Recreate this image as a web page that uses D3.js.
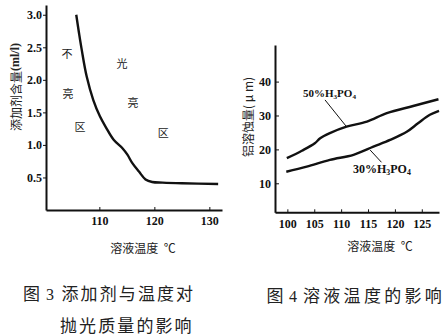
<!DOCTYPE html>
<html>
<head>
<meta charset="utf-8">
<script src="https://cdn.jsdelivr.net/npm/d3@7"></script>
<style>
  html, body { margin: 0; padding: 0; background: #fff; }
  svg { display: block; }
  .num text { font-family: "Liberation Serif", "DejaVu Serif", serif; font-weight: bold; font-size: 12px; fill: #111; }
  .cjk { font-family: "Noto Sans CJK SC", sans-serif; fill: #222; }
</style>
</head>
<body>
<svg id="fig" width="444" height="335"></svg>
<script>
// Fig. 3: additive content boundary vs. solution temperature
const temp3 = [105.8, 106.3, 106.8, 107.7, 108.9, 110.1, 111.2, 112.6, 114.2, 115.1, 116.0, 117.2, 118.4, 119.6, 121.5, 125.0, 131.6];
const additive = [3.00, 2.72, 2.46, 2.05, 1.69, 1.44, 1.27, 1.08, 0.95, 0.85, 0.72, 0.59, 0.47, 0.43, 0.42, 0.41, 0.40];
const ticksX3 = [110, 120, 130];
const ticksY3 = [0.5, 1.0, 1.5, 2.0, 2.5, 3.0];
const regionLabels = [
  { t: "不", x: 104.1, y: 2.42 }, { t: "亮", x: 104.3, y: 1.80 }, { t: "区", x: 106.5, y: 1.29 },
  { t: "光", x: 114.1, y: 2.26 }, { t: "亮", x: 116.1, y: 1.66 }, { t: "区", x: 121.6, y: 1.20 }
];

// Fig. 4: aluminium dissolution vs. solution temperature
const temp4a = [99.9, 102.7, 105.1, 106.1, 107.9, 111.0, 114.8, 118.5, 123.4, 128.1];
const h3po4_50 = [17.4, 19.6, 21.8, 23.3, 24.8, 26.7, 28.2, 30.7, 32.8, 34.8];
const temp4b = [99.8, 103.6, 107.9, 112.3, 116.0, 119.1, 122.2, 124.3, 126.5, 128.2];
const h3po4_30 = [13.4, 14.9, 16.9, 18.4, 20.8, 22.8, 25.2, 27.7, 30.2, 31.4];
const ticksX4 = [100, 105, 110, 115, 120, 125];
const ticksY4 = [10, 20, 30, 40];

const svg = d3.select("#fig");
svg.append("rect").attr("width", 444).attr("height", 335).attr("fill", "#fff");

// ---------- Fig. 3 ----------
const x3 = d3.scaleLinear().domain([100.3, 132.3]).range([46, 222]);
const y3 = d3.scaleLinear().domain([0, 3.15]).range([210, 5]);

const ax3x = svg.append("g").attr("class", "num").attr("transform", `translate(0,${y3(0)})`)
  .call(d3.axisBottom(x3).tickValues(ticksX3).tickFormat(d3.format("d")).tickSizeInner(-3).tickSizeOuter(0).tickPadding(6));
const ax3y = svg.append("g").attr("class", "num").attr("transform", `translate(${x3(100.3)},0)`)
  .call(d3.axisLeft(y3).tickValues(ticksY3).tickFormat(d3.format(".1f")).tickSizeInner(3).tickSizeOuter(0).tickPadding(1));
[ax3x, ax3y].forEach(g => {
  g.select(".domain").attr("stroke", "#111").attr("stroke-width", 2);
  g.selectAll(".tick line").attr("stroke", "#111").attr("stroke-width", 1);
});

svg.append("path")
  .datum(temp3.map((t, i) => [t, additive[i]]))
  .attr("fill", "none").attr("stroke", "#111").attr("stroke-width", 2.4)
  .attr("d", d3.line().x(d => x3(d[0])).y(d => y3(d[1])).curve(d3.curveCatmullRom));

svg.selectAll("text.region").data(regionLabels).enter().append("text")
  .attr("class", "cjk region")
  .attr("x", d => x3(d.x)).attr("y", d => y3(d.y))
  .attr("text-anchor", "middle").attr("dominant-baseline", "central")
  .attr("font-size", 11).text(d => d.t);

svg.append("text").attr("class", "cjk")
  .attr("x", 143).attr("y", 247).attr("text-anchor", "middle").attr("dominant-baseline", "central")
  .attr("font-size", 12).attr("xml:space", "preserve").text("溶液温度  ℃");

const yl3 = svg.append("text").attr("class", "cjk")
  .attr("transform", "translate(15,87) rotate(-90)")
  .attr("text-anchor", "middle").attr("dominant-baseline", "central").attr("font-size", 12);
yl3.append("tspan").text("添加剂含量");
yl3.append("tspan").attr("font-family", "Liberation Serif, serif").attr("font-weight", "bold").text("(ml/l)");

// ---------- Fig. 4 ----------
const x4 = d3.scaleLinear().domain([97.7, 128.2]).range([275, 439]);
const y4 = d3.scaleLinear().domain([1.44, 50.8]).range([212.3, 45]);

const ax4x = svg.append("g").attr("class", "num").attr("transform", `translate(0,${y4(1.44)})`)
  .call(d3.axisBottom(x4).tickValues(ticksX4).tickFormat(d3.format("d")).tickSizeInner(-3).tickSizeOuter(0).tickPadding(7));
const ax4y = svg.append("g").attr("class", "num").attr("transform", `translate(${x4(97.7)},0)`)
  .call(d3.axisLeft(y4).tickValues(ticksY4).tickFormat(d3.format("d")).tickSizeInner(-4).tickSizeOuter(0).tickPadding(4));
[ax4x, ax4y].forEach(g => {
  g.select(".domain").attr("stroke", "#111").attr("stroke-width", 2);
  g.selectAll(".tick line").attr("stroke", "#111").attr("stroke-width", 1);
});

const line4 = d3.line().x(d => x4(d[0])).y(d => y4(d[1])).curve(d3.curveCatmullRom);
svg.append("path").datum(temp4a.map((t, i) => [t, h3po4_50[i]]))
  .attr("fill", "none").attr("stroke", "#111").attr("stroke-width", 2.4).attr("d", line4);
svg.append("path").datum(temp4b.map((t, i) => [t, h3po4_30[i]]))
  .attr("fill", "none").attr("stroke", "#111").attr("stroke-width", 2.4).attr("d", line4);

// series labels with leader lines
const seriesLabels = [
  { pct: "50%", lx: 102.9, ly: 35.5, from: [107.0, 34.6], to: [111.0, 26.7], size: 11 },
  { pct: "30%", lx: 112.2, ly: 13.0, from: [117.5, 16.2], to: [115.4, 19.8], size: 12 }
];
seriesLabels.forEach(s => {
  svg.append("line")
    .attr("x1", x4(s.from[0])).attr("y1", y4(s.from[1]))
    .attr("x2", x4(s.to[0])).attr("y2", y4(s.to[1]))
    .attr("stroke", "#111").attr("stroke-width", 1);
  const t = svg.append("text")
    .attr("x", x4(s.lx)).attr("y", y4(s.ly))
    .attr("font-family", "Liberation Serif, serif").attr("font-weight", "bold")
    .attr("font-size", s.size).attr("fill", "#111");
  t.append("tspan").text(s.pct + "H");
  t.append("tspan").attr("font-size", s.size * 0.65).attr("dy", 2).text("3");
  t.append("tspan").attr("dy", -2).text("PO");
  t.append("tspan").attr("font-size", s.size * 0.65).attr("dy", 2).text("4");
});

svg.append("text").attr("class", "cjk")
  .attr("x", 380).attr("y", 245).attr("text-anchor", "middle").attr("dominant-baseline", "central")
  .attr("font-size", 12).attr("xml:space", "preserve").text("溶液温度  ℃");

const yl4 = svg.append("text").attr("class", "cjk")
  .attr("transform", "translate(247,117) rotate(-90)")
  .attr("text-anchor", "middle").attr("dominant-baseline", "central").attr("font-size", 12);
yl4.append("tspan").text("铝溶蚀量");
yl4.append("tspan").attr("xml:space", "preserve").text("( μ m)");

// ---------- captions ----------
const captions = [
  { t: "图", x: 23, y: 299.5, ls: 0 },
  { t: "3", x: 50, y: 299.5, num: true },
  { t: "添加剂与温度对", x: 61.5, y: 299.5, ls: 2.1 },
  { t: "抛光质量的影响", x: 60, y: 331.5, ls: 2.1 },
  { t: "图", x: 266.5, y: 301.5, ls: 0 },
  { t: "4", x: 293, y: 301.5, num: true },
  { t: "溶液温度的影响", x: 303, y: 301.5, ls: 3.3 }
];
svg.selectAll("text.cap").data(captions).enter().append("text")
  .attr("class", d => d.num ? "cap" : "cjk cap")
  .attr("x", d => d.x).attr("y", d => d.y)
  .attr("text-anchor", d => d.num ? "middle" : "start")
  .attr("font-family", d => d.num ? "Liberation Serif, serif" : null)
  .attr("fill", "#222")
  .attr("font-size", d => d.num ? 16 : 17)
  .attr("letter-spacing", d => d.num ? 0 : d.ls)
  .text(d => d.t);
</script>
</body>
</html>
